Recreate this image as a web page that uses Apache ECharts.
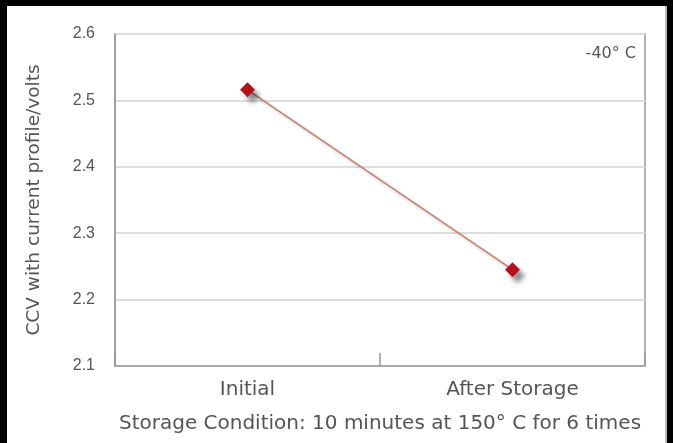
<!DOCTYPE html>
<html>
<head>
<meta charset="utf-8">
<script src="https://cdn.jsdelivr.net/npm/echarts@6/dist/echarts.min.js"></script>
<style>
html,body{margin:0;padding:0;background:#000;}
#wrap{position:relative;width:673px;height:443px;background:#000;overflow:hidden;}
#panel{position:absolute;left:7px;top:6px;width:660px;height:437px;background:#fff;border-right:2px solid #bbb;box-sizing:border-box;}
#chart{position:absolute;left:0;top:0;width:673px;height:443px;}
</style>
</head>
<body>
<div id="wrap"><div id="panel"></div><div id="chart"></div></div>
<script>
var categories = ['Initial', 'After Storage'];
var ccvValues = [2.516, 2.245];
var yTicks = [2.1, 2.2, 2.3, 2.4, 2.5, 2.6];
var yAxisTitle = 'CCV with current profile/volts';
var xAxisTitle = 'Storage Condition: 10 minutes at 150° C for 6 times';
var tempLabel = '-40° C';

var chart = echarts.init(document.getElementById('chart'), null, {renderer: 'canvas'});
var textColor = '#555';
var wideFont = '"DejaVu Sans", Verdana, sans-serif';
var tickFont = '"Liberation Sans", Arial, sans-serif';
chart.setOption({
  backgroundColor: 'transparent',
  animation: false,
  grid: {left: 115, right: 28, top: 34, bottom: 77, show: true, borderColor: '#999', borderWidth: 1.5, backgroundColor: 'transparent'},
  graphic: [{
    type: 'text', right: 37, top: 46,
    style: {text: tempLabel, fill: textColor, font: '16px ' + wideFont}
  }],
  xAxis: {
    type: 'category',
    data: categories,
    boundaryGap: true,
    name: xAxisTitle,
    nameLocation: 'middle',
    nameGap: 48,
    nameTextStyle: {color: textColor, fontSize: 20, fontFamily: wideFont},
    axisLine: {lineStyle: {color: '#999', width: 1.5}},
    axisTick: {show: true, inside: true, length: 13, lineStyle: {color: '#999', width: 1.5}},
    axisLabel: {color: textColor, fontSize: 20, fontFamily: wideFont, margin: 14}
  },
  yAxis: {
    type: 'value',
    min: yTicks[0],
    max: yTicks[yTicks.length - 1],
    interval: 0.1,
    name: yAxisTitle,
    nameLocation: 'middle',
    nameGap: 71,
    nameRotate: 90,
    nameTextStyle: {color: textColor, fontSize: 18.5, fontFamily: wideFont},
    axisLine: {show: true, lineStyle: {color: '#999', width: 1.5}},
    axisTick: {show: false},
    axisLabel: {color: textColor, fontSize: 16, fontFamily: tickFont, margin: 20,
      formatter: function (v) { return v.toFixed(1); }},
    splitLine: {show: true, lineStyle: {color: '#ddd', width: 2}}
  },
  series: [{
    type: 'line',
    data: ccvValues,
    symbol: 'diamond',
    symbolSize: 15,
    lineStyle: {color: '#c8806a', width: 1.5, shadowColor: 'rgba(0,0,0,0.25)', shadowBlur: 3, shadowOffsetX: 2, shadowOffsetY: 2},
    itemStyle: {color: '#b5101e', shadowColor: 'rgba(0,0,0,0.45)', shadowBlur: 5, shadowOffsetX: 5, shadowOffsetY: 6}
  }]
});
</script>
</body>
</html>
